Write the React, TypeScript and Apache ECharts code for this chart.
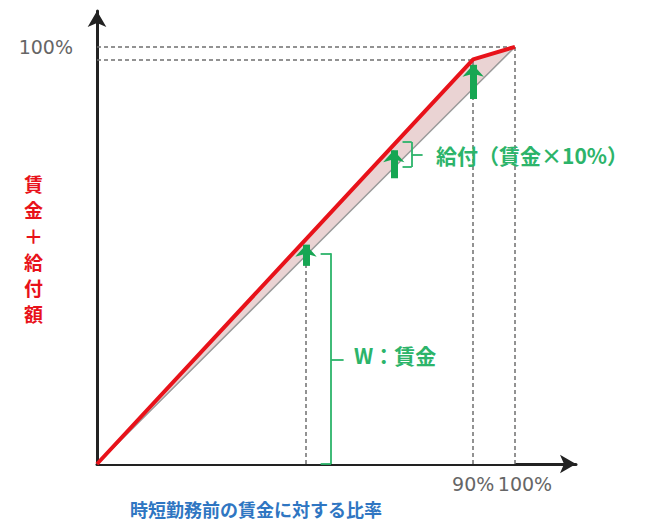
import React, { useEffect, useRef } from "react";
import * as echarts from "echarts";

// Data (percent of pre-shortened-hours wage)
const xPoints = [0, 90, 100];
const wage = [0, 90, 100];
const total = [0, 97, 100];
const arrowX = [50, 71, 90];
const xTickLabels: Record<number, string> = { 90: "90%", 100: "100%" };
const yTickLabels: Record<number, string> = { 100: "100%" };
const yTitle = ["賃", "金", "＋", "給", "付", "額"];
const xTitle = "時短勤務前の賃金に対する比率";
const benefitText = "給付（賃金×10%）";
const wageText = "W：賃金";

const interp = (xs: number[], ys: number[], x: number) => {
  for (let i = 1; i < xs.length; i++) {
    if (x <= xs[i]) {
      const t = (x - xs[i - 1]) / (xs[i] - xs[i - 1]);
      return ys[i - 1] + t * (ys[i] - ys[i - 1]);
    }
  }
  return ys[ys.length - 1];
};

const RED = "#E8121A";
const GREEN = "#17A653";
const GREEN_T = "#2CB46A";
const DASH = "#6f6f6f";
const FONT = "'Noto Sans CJK JP', 'Noto Sans', sans-serif";
const NUMFONT = "'DejaVu Sans', sans-serif";

export default function App() {
  const ref = useRef<HTMLDivElement>(null);
  useEffect(() => {
    if (!ref.current) return;
    const chart = echarts.init(ref.current, undefined, { renderer: "svg" });

    const dashStyle = { color: DASH, width: 1.5, type: [4, 3] as any };
    const seg = (a: number[], b: number[], style: any) => [
      { coord: a, lineStyle: style },
      { coord: b },
    ];

    const dashed = [
      seg([arrowX[0], 0], [arrowX[0], interp(xPoints, wage, arrowX[0])], dashStyle),
      seg([xPoints[1], 0], [xPoints[1], total[1]], dashStyle),
      seg([xPoints[2], 0], [xPoints[2], total[2]], dashStyle),
      seg([0, total[2]], [xPoints[2], total[2]], dashStyle),
      seg([0, total[1]], [xPoints[1], total[1]], dashStyle),
    ];

    const bStyle = { color: GREEN_T, width: 1.8, type: "solid" };
    const wTop = interp(xPoints, wage, arrowX[0]) + 0.5;
    const brackets = [
      seg([56, 0], [56, wTop], bStyle),
      seg([53.5, wTop], [56, wTop], bStyle),
      seg([53.5, 0], [56, 0], bStyle),
      seg([56, 25], [59, 25], bStyle),
      seg([75.3, 71.2], [75.3, 77.2], bStyle),
      seg([73.1, 77.2], [75.3, 77.2], bStyle),
      seg([73.1, 71.2], [75.3, 71.2], bStyle),
      seg([75.3, 74.1], [77.9, 74.1], bStyle),
    ];

    const arrows = arrowX.map((x) => {
      const lo = interp(xPoints, wage, x) - 2.5;
      const hi = interp(xPoints, total, x);
      return [
        { coord: [x, lo], lineStyle: { color: GREEN, width: 7, type: "solid" } },
        { coord: [x, hi - 1.3] },
      ];
    });

    const totalData = xPoints.map((x, i) => [x, total[i]]);
    const wageData = xPoints.map((x, i) => [x, wage[i]]);

    chart.setOption({
      animation: false,
      grid: { left: 97, right: 72, top: 11, bottom: 63 },
      xAxis: {
        type: "value",
        min: 0,
        max: 114.6,
        interval: 10,
        axisLine: {
          show: true,
          symbol: ["none", "arrow"],
          symbolSize: [14, 16],
          lineStyle: { color: "#222", width: 3 },
        },
        axisTick: { show: false },
        splitLine: { show: false },
        axisLabel: {
          margin: 10,
          formatter: (v: number) =>
            v === 100 ? `{b|${xTickLabels[v]}}` : xTickLabels[v] ? `{a|${xTickLabels[v]}}` : "",
          rich: {
            a: { fontSize: 19, color: "#666", fontFamily: NUMFONT },
            b: { fontSize: 19, color: "#666", fontFamily: NUMFONT, padding: [0, 0, 0, 20] },
          },
        },
      },
      yAxis: {
        type: "value",
        min: 0,
        max: 108.6,
        interval: 10,
        axisLine: {
          show: true,
          symbol: ["none", "arrow"],
          symbolSize: [14, 16],
          lineStyle: { color: "#222", width: 3 },
        },
        axisTick: { show: false },
        splitLine: { show: false },
        axisLabel: {
          margin: 24,
          fontSize: 19,
          color: "#666",
          fontFamily: NUMFONT,
          formatter: (v: number) => yTickLabels[v] || "",
        },
      },
      series: [
        {
          type: "line",
          name: "totalArea",
          data: totalData,
          symbol: "none",
          lineStyle: { width: 0, opacity: 0 },
          areaStyle: { color: "#EAD3D3", opacity: 1 },
          z: 1,
        },
        {
          type: "line",
          name: "wageMask",
          data: wageData,
          symbol: "none",
          lineStyle: { width: 0, opacity: 0 },
          areaStyle: { color: "#ffffff", opacity: 1 },
          z: 2,
        },
        {
          type: "line",
          name: "guides",
          data: [],
          z: 3,
          markLine: {
            silent: true,
            symbol: ["none", "none"],
            label: { show: false },
            data: [...dashed, ...brackets],
          },
        },
        {
          type: "line",
          name: "wage",
          data: wageData,
          symbol: "none",
          lineStyle: { color: "#9b9b9b", width: 1.5 },
          z: 4,
        },
        {
          type: "line",
          name: "total",
          data: totalData,
          symbol: "none",
          lineStyle: { color: RED, width: 4 },
          z: 5,
        },
        {
          type: "line",
          name: "arrows",
          data: [],
          z: 10,
          markLine: {
            silent: true,
            symbol: ["none", "arrow"],
            symbolSize: [16, 12],
            label: { show: false },
            itemStyle: { color: GREEN },
            data: arrows,
          },
        },
      ],
      graphic: [
        ...yTitle.map((ch, i) => ({
          type: "text",
          z: 100,
          left: 24,
          top: 174 + i * 26,
          style: {
            text: ch,
            fill: RED,
            font: `bold 19px ${FONT}`,
          },
        })),
        {
          type: "text",
          z: 100,
          left: 130,
          top: 500,
          style: {
            text: xTitle,
            fill: "#2F76C2",
            font: `bold 18px ${FONT}`,
          },
        },
        {
          type: "text",
          z: 100,
          left: 436,
          top: 144,
          style: {
            text: benefitText,
            fill: GREEN_T,
            font: `bold 21px ${FONT}`,
          },
        },
        {
          type: "text",
          z: 100,
          left: 354,
          top: 344,
          style: {
            text: wageText,
            fill: GREEN_T,
            font: `bold 21px ${FONT}`,
          },
        },
      ],
    });
    return () => chart.dispose();
  }, []);
  return (
    <div
      ref={ref}
      style={{ position: "absolute", left: 0, top: 0, width: 648, height: 527, background: "#fff" }}
    />
  );
}
